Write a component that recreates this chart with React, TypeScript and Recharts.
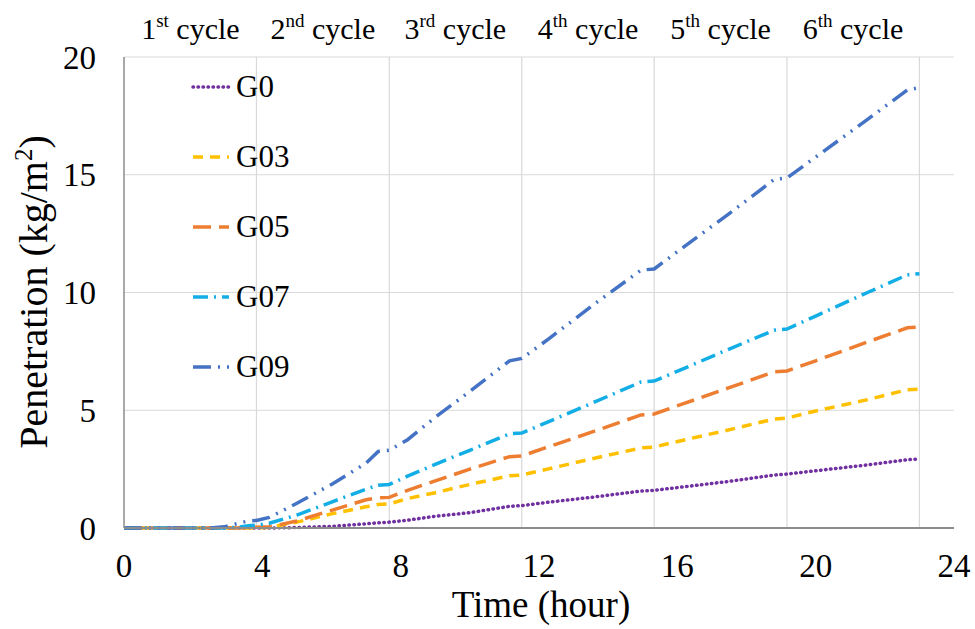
import { LineChart, Line, XAxis, YAxis, CartesianGrid, ReferenceLine, Legend, Label } from "recharts";

// time (hour) of each sample
const hours = [0, 2.5, 2.9, 3.3, 3.6, 3.83, 4.2, 5.0, 6.0, 7.0, 7.35, 7.67, 8.2, 9.0, 10.0, 11.15, 11.5, 12.3, 13.5, 14.95, 15.33, 16.2, 17.5, 18.8, 19.17, 20.0, 21.5, 22.65, 23.0];

// penetration (kg/m2)
const g0 = [0, 0, 0, 0, 0, 0, 0, 0.02, 0.07, 0.18, 0.22, 0.25, 0.33, 0.5, 0.65, 0.92, 0.95, 1.1, 1.3, 1.57, 1.6, 1.75, 1.98, 2.25, 2.29, 2.43, 2.68, 2.9, 2.93];
const g03 = [0, 0, 0, 0, 0, 0, 0.02, 0.25, 0.6, 0.9, 1.0, 1.02, 1.25, 1.5, 1.85, 2.22, 2.25, 2.52, 2.93, 3.4, 3.44, 3.74, 4.17, 4.63, 4.67, 4.97, 5.45, 5.87, 5.9];
const g05 = [0, 0, 0, 0, 0.02, 0.03, 0.05, 0.3, 0.75, 1.2, 1.28, 1.3, 1.6, 2.0, 2.5, 3.03, 3.06, 3.46, 4.06, 4.8, 4.84, 5.29, 5.96, 6.63, 6.67, 7.1, 7.9, 8.5, 8.53];
const g07 = [0, 0, 0, 0.03, 0.1, 0.12, 0.2, 0.55, 1.1, 1.65, 1.82, 1.85, 2.2, 2.7, 3.3, 4.0, 4.03, 4.53, 5.28, 6.2, 6.24, 6.78, 7.6, 8.4, 8.45, 9.0, 10.0, 10.75, 10.8];
const g09 = [0, 0, 0.05, 0.2, 0.3, 0.32, 0.45, 1.05, 1.85, 2.75, 3.25, 3.3, 3.75, 4.7, 5.8, 7.1, 7.2, 8.05, 9.4, 10.95, 11.0, 11.95, 13.35, 14.8, 14.86, 15.75, 17.35, 18.6, 18.7];

const cycleEnds = [3.83, 7.67, 11.5, 15.33, 19.17, 23];
const cycleMids = [1.92, 5.75, 9.58, 13.42, 17.25, 21.08];
const cycleNums = ["1", "2", "3", "4", "5", "6"];
const cycleSuffix = ["st", "nd", "rd", "th", "th", "th"];

const xTicks = [0, 4, 8, 12, 16, 20, 24];
const yTicks = [0, 5, 10, 15, 20];

const series = [
  { key: "G0", color: "#7030A0", dash: "0.5 4.5", width: 3.5, cap: "round" },
  { key: "G03", color: "#FFC000", dash: "10 7", width: 3.5, cap: "butt" },
  { key: "G05", color: "#ED7D31", dash: "18 8", width: 3.5, cap: "butt" },
  { key: "G07", color: "#14AEE6", dash: "15 6 2 6", width: 3.5, cap: "butt" },
  { key: "G09", color: "#4472C4", dash: "18 7 2 7 2 7", width: 3.5, cap: "butt" },
];

const data = hours.map((h, i) => ({
  t: h,
  G0: g0[i],
  G03: g03[i],
  G05: g05[i],
  G07: g07[i],
  G09: g09[i],
}));

const FONT = '"Liberation Serif", "Times New Roman", serif';

function CycleTick(props: any) {
  const { x, payload } = props;
  const i = cycleMids.indexOf(payload.value);
  return (
    <text x={x} y={39} textAnchor="middle" fontFamily={FONT} fontSize={30} fill="#000">
      {cycleNums[i]}
      <tspan dy={-12} fontSize={19}>{cycleSuffix[i]}</tspan>
      <tspan dy={12}> cycle</tspan>
    </text>
  );
}

function LegendBox() {
  return (
    <div style={{ fontFamily: FONT, fontSize: 31, color: "#000" }}>
      {series.map((s) => (
        <div key={s.key} style={{ display: "flex", alignItems: "center", height: 70 }}>
          <svg width={42} height={10} style={{ marginRight: 4 }}>
            <line
              x1={3}
              y1={5}
              x2={39}
              y2={5}
              stroke={s.color}
              strokeWidth={s.width}
              strokeDasharray={s.dash}
              strokeLinecap={s.cap as any}
            />
          </svg>
          <span>{s.key}</span>
        </div>
      ))}
    </div>
  );
}

export default function App() {
  return (
    <div style={{ position: "absolute", left: 0, top: 0, width: 975, height: 629, background: "#fff" }}>
      <LineChart width={975} height={629} data={data} margin={{ top: 0, right: 21, bottom: 0, left: 0 }}>
        <CartesianGrid vertical={false} stroke="#d9d9d9" strokeWidth={1.2} />
        {cycleEnds.map((c) => (
          <ReferenceLine key={c} x={c} stroke="#d9d9d9" strokeWidth={1.2} />
        ))}
        <XAxis
          dataKey="t"
          type="number"
          domain={[0, 24]}
          allowDataOverflow
          ticks={xTicks}
          height={101}
          tickLine={false}
          axisLine={{ stroke: "#8c8c8c", strokeWidth: 2 }}
          tick={{ fontFamily: FONT, fontSize: 33, fill: "#000" }}
          tickMargin={20}
        >
          <Label
            content={() => (
              <text x={541} y={617} textAnchor="middle" fontFamily={FONT} fontSize={37} fill="#000">
                Time (hour)
              </text>
            )}
          />
        </XAxis>
        <XAxis
          xAxisId="top"
          dataKey="t"
          orientation="top"
          type="number"
          domain={[0, 24]}
          allowDataOverflow
          ticks={cycleMids}
          height={57}
          tickLine={false}
          axisLine={false}
          tick={<CycleTick />}
        />
        <YAxis
          type="number"
          domain={[0, 20]}
          ticks={yTicks}
          width={124}
          tickLine={false}
          axisLine={{ stroke: "#8c8c8c", strokeWidth: 1.5 }}
          tick={{ fontFamily: FONT, fontSize: 33, fill: "#000" }}
          tickMargin={22}
        >
          <Label
            content={() => (
              <text
                x={47}
                y={292}
                transform="rotate(-90, 47, 292)"
                textAnchor="middle"
                fontFamily={FONT}
                fontSize={40}
                fill="#000"
              >
                Penetration (kg/m
                <tspan dy={-15} fontSize={25}>2</tspan>
                <tspan dy={15}>)</tspan>
              </text>
            )}
          />
        </YAxis>
        <Legend
          layout="vertical"
          verticalAlign="middle"
          align="center"
          content={() => <LegendBox />}
          wrapperStyle={{ position: "absolute", left: 190, top: 52, width: 140 }}
        />
        {series.map((s) => (
          <Line
            key={s.key}
            dataKey={s.key}
            type="linear"
            stroke={s.color}
            strokeWidth={s.width}
            strokeDasharray={s.dash}
            strokeLinecap={s.cap as any}
            dot={false}
            isAnimationActive={false}
          />
        ))}
      </LineChart>
    </div>
  );
}
